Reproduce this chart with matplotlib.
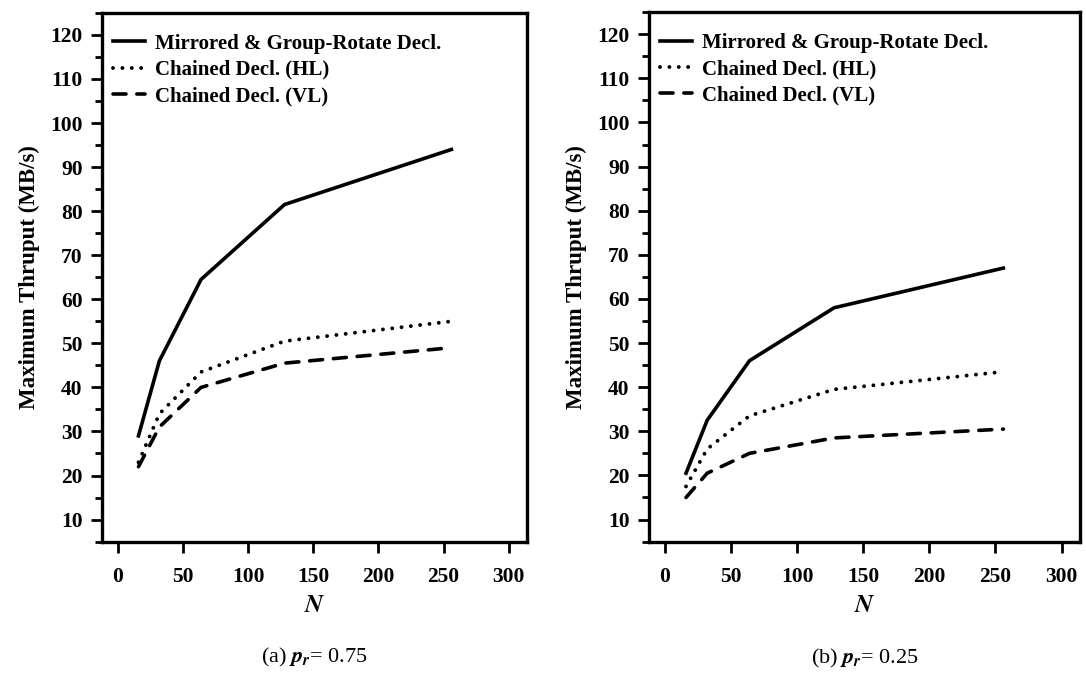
import matplotlib
matplotlib.use("Agg")
import matplotlib.pyplot as plt
from matplotlib.ticker import MultipleLocator

plt.rcParams['font.family'] = ['Liberation Serif', 'DejaVu Serif']
plt.rcParams['font.weight'] = 'bold'
plt.rcParams['axes.labelweight'] = 'bold'
plt.rcParams['mathtext.fontset'] = 'stix'

# number of disks
N = [16, 32, 64, 128, 256]

# (a) p_r = 0.75
mirrored_a = [29, 46, 64.5, 81.5, 94]
chained_hl_a = [23, 34, 43.5, 50.5, 55]
chained_vl_a = [22, 31, 40, 45.5, 49]

# (b) p_r = 0.25
mirrored_b = [20.5, 32.5, 46, 58, 67]
chained_hl_b = [17.5, 26, 33.5, 39.5, 43.5]
chained_vl_b = [15, 20.5, 25, 28.5, 30.5]

labels = ['Mirrored & Group-Rotate Decl.', 'Chained Decl. (HL)', 'Chained Decl. (VL)']
captions = ['(a) $p_r$= 0.75', '(b) $p_r$= 0.25']

fig = plt.figure(figsize=(10.86, 6.77), dpi=100)
ax1 = fig.add_axes([0.0939, 0.200, 0.3914, 0.781])
ax2 = fig.add_axes([0.5976, 0.200, 0.3969, 0.782])

panels = [
    (ax1, mirrored_a, chained_hl_a, chained_vl_a, captions[0]),
    (ax2, mirrored_b, chained_hl_b, chained_vl_b, captions[1]),
]

for ax, m, hl, vl, cap in panels:
    ax.plot(N, m, color='black', lw=2.6, solid_joinstyle='miter', label=labels[0])
    ax.plot(N, hl, color='black', lw=2.8, linestyle=(0, (0.01, 2.4)),
            dash_capstyle='round', label=labels[1])
    ax.plot(N, vl, color='black', lw=2.6, linestyle=(0, (3.6, 3.0)),
            dash_capstyle='round', label=labels[2])

    ax.set_xlim(-12, 314)
    ax.set_ylim(5, 125)
    ax.xaxis.set_major_locator(MultipleLocator(50))
    ax.yaxis.set_minor_locator(MultipleLocator(5))
    ax.set_yticks(range(10, 121, 10))
    ax.tick_params(axis='both', which='major', direction='out', length=8,
                   width=2.0, labelsize=15.5, pad=6)
    ax.tick_params(axis='y', which='minor', direction='out', length=5, width=2.0)
    ax.tick_params(axis='x', pad=10)
    for s in ax.spines.values():
        s.set_linewidth(2.4)

    ax.set_xlabel('$N$', fontsize=18, labelpad=5)
    ax.set_ylabel('Maximum Thruput (MB/s)', fontsize=16.5, labelpad=7)
    ax.text(0.5, -0.22, cap, transform=ax.transAxes, ha='center', va='center',
            fontsize=16, fontweight='normal')

    ax.legend(loc='upper left', bbox_to_anchor=(-0.022, 1.0), frameon=False,
              fontsize=15, handlelength=1.5, handletextpad=0.5,
              labelspacing=0.3, borderaxespad=0.45, borderpad=0.55)

fig.savefig('out.png', dpi=100)
